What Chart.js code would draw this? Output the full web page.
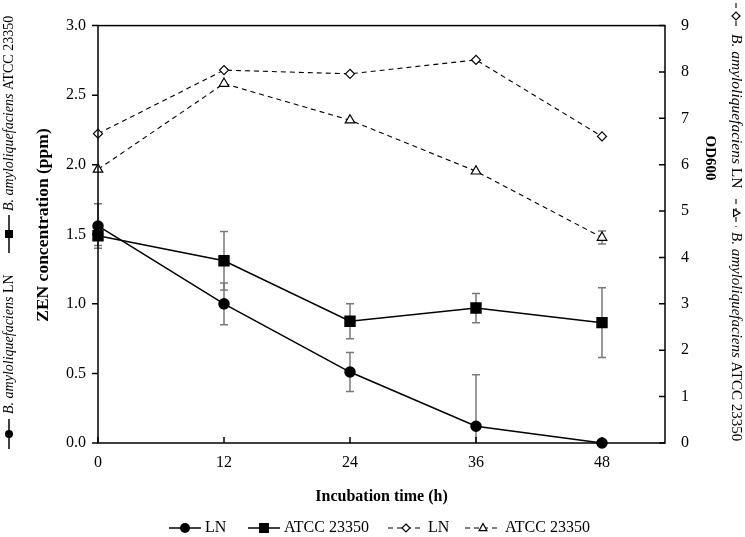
<!DOCTYPE html>
<html>
<head>
<meta charset="utf-8">
<script src="https://cdn.jsdelivr.net/npm/chart.js@4/dist/chart.umd.min.js"></script>
<style>
  html, body { margin: 0; padding: 0; background: #fff; }
  #wrap { width: 745px; height: 537px; }
</style>
</head>
<body>
<div id="wrap"><canvas id="zenChart" width="745" height="537"></canvas></div>
<script>
// ── DATA ─────────────────────────────
const hours = [0, 12, 24, 36, 48];
const zenLN = [1.56, 1.00, 0.51, 0.12, 0.00];
const zenLNErr = [0.16, 0.15, 0.14, 0.37, 0];
const zenATCC = [1.49, 1.31, 0.875, 0.97, 0.865];
const zenATCCErr = [0.07, 0.21, 0.125, 0.105, 0.25];
const odLN = [6.67, 8.04, 7.96, 8.26, 6.61];
const odATCC = [5.90, 7.75, 6.96, 5.86, 4.43];
const odATCCErr = [0, 0, 0, 0, 0.14];

const xTicks = [0, 12, 24, 36, 48];
const zenTicks = [0, 0.5, 1.0, 1.5, 2.0, 2.5, 3.0];
const odTicks = [0, 1, 2, 3, 4, 5, 6, 7, 8, 9];

const FONT = '"Liberation Serif", "Times New Roman", serif';
const ERR_COLOR = "#7a7a7a";

// ── HELPERS ─────────────────────────────
function pts(values) {
  return hours.map((h, i) => ({ x: h, y: values[i] }));
}

function drawMarker(ctx, style, x, y, r) {
  ctx.save();
  ctx.setLineDash([]);
  ctx.lineWidth = 1.2;
  ctx.strokeStyle = "#000";
  ctx.beginPath();
  if (style === "circle") {
    ctx.arc(x, y, r, 0, Math.PI * 2);
    ctx.fillStyle = "#000";
    ctx.fill();
  } else if (style === "rect") {
    ctx.fillStyle = "#000";
    ctx.fillRect(x - r, y - r, r * 2, r * 2);
  } else if (style === "rectRot") {
    ctx.moveTo(x, y - r);
    ctx.lineTo(x + r, y);
    ctx.lineTo(x, y + r);
    ctx.lineTo(x - r, y);
    ctx.closePath();
    ctx.fillStyle = "#fff";
    ctx.fill();
    ctx.stroke();
  } else {
    ctx.moveTo(x, y - r);
    ctx.lineTo(x + r * 0.87, y + r * 0.6);
    ctx.lineTo(x - r * 0.87, y + r * 0.6);
    ctx.closePath();
    ctx.fillStyle = "#fff";
    ctx.fill();
    ctx.stroke();
  }
  ctx.restore();
}

// one legend sample: line + marker + label parts, drawn along current x axis
function legendItem(ctx, x, y, len, ds, parts, size, markerR, gap) {
  ctx.save();
  ctx.strokeStyle = "#000";
  ctx.lineWidth = ds.borderDash ? 1.1 : 1.5;
  ctx.setLineDash(ds.borderDash || []);
  ctx.beginPath();
  ctx.moveTo(x, y);
  ctx.lineTo(x + len, y);
  ctx.stroke();
  drawMarker(ctx, ds.pointStyle, x + len / 2, y, markerR);
  ctx.fillStyle = "#000";
  ctx.textBaseline = "middle";
  ctx.textAlign = "left";
  let tx = x + len + (gap || 4);
  parts.forEach(p => {
    ctx.font = (p.italic ? "italic " : "") + size + "px " + FONT;
    ctx.fillText(p.text, tx, y);
    tx += ctx.measureText(p.text).width;
  });
  ctx.restore();
}

// ── PLUGIN: frame, ticks, error bars, titles, legends ─────────
const decorPlugin = {
  id: "decor",
  beforeDatasetsDraw(chart) {
    const ctx = chart.ctx;
    const xs = chart.scales.x;
    ctx.save();
    ctx.strokeStyle = ERR_COLOR;
    ctx.lineWidth = 1.5;
    chart.data.datasets.forEach(ds => {
      if (!ds.errors) return;
      const ys = chart.scales[ds.yAxisID];
      ds.data.forEach((p, i) => {
        const e = ds.errors[i];
        if (!e) return;
        const px = xs.getPixelForValue(p.x);
        const top = ys.getPixelForValue(p.y + e);
        const low = Math.max(p.y - e, 0);
        const bot = ys.getPixelForValue(low);
        ctx.beginPath();
        ctx.moveTo(px, top);
        ctx.lineTo(px, bot);
        ctx.moveTo(px - 4, top);
        ctx.lineTo(px + 4, top);
        if (low > 0) {
          ctx.moveTo(px - 4, bot);
          ctx.lineTo(px + 4, bot);
        }
        ctx.stroke();
      });
    });
    ctx.restore();
  },
  afterDraw(chart) {
    const ctx = chart.ctx;
    const a = chart.chartArea;
    const xs = chart.scales.x, yl = chart.scales.y, yr = chart.scales.y2;
    const dsets = chart.data.datasets;

    // frame
    ctx.save();
    ctx.strokeStyle = "#000";
    ctx.lineWidth = 1.5;
    ctx.strokeRect(a.left, a.top, a.right - a.left, a.bottom - a.top);
    ctx.beginPath();
    zenTicks.forEach(v => {
      const py = yl.getPixelForValue(v);
      ctx.moveTo(a.left - 6, py);
      ctx.lineTo(a.left, py);
    });
    odTicks.forEach(v => {
      const py = yr.getPixelForValue(v);
      ctx.moveTo(a.right - 6, py);
      ctx.lineTo(a.right, py);
    });
    xTicks.forEach(v => {
      const px = xs.getPixelForValue(v);
      ctx.moveTo(px, a.bottom);
      ctx.lineTo(px, a.bottom - 6);
    });
    ctx.stroke();

    // axis titles
    ctx.fillStyle = "#000";
    ctx.textAlign = "center";
    ctx.textBaseline = "middle";
    ctx.font = "bold 16px " + FONT;
    ctx.fillText("Incubation time (h)", (a.left + a.right) / 2, 497);
    ctx.save();
    ctx.translate(43, 225);
    ctx.rotate(-Math.PI / 2);
    ctx.font = "bold 17.5px " + FONT;
    ctx.fillText("ZEN concentration (ppm)", 0, 0);
    ctx.restore();
    ctx.save();
    ctx.translate(710, 158);
    ctx.rotate(Math.PI / 2);
    ctx.font = "bold 15px " + FONT;
    ctx.fillText("OD600", 0, 0);
    ctx.restore();
    ctx.restore();

    // bottom legend
    legendItem(ctx, 169, 528, 32, dsets[0], [{ text: "LN" }], 16, 5);
    legendItem(ctx, 248, 528, 32, dsets[1], [{ text: "ATCC 23350" }], 16, 5);
    legendItem(ctx, 388, 528, 36, dsets[2], [{ text: "LN" }], 16, 4);
    legendItem(ctx, 465, 528, 36, dsets[3], [{ text: "ATCC 23350" }], 16, 4.5);

    // rotated legends at the sides
    const sp = "B. amyloliquefaciens ";
    ctx.save();
    ctx.translate(9, 467);
    ctx.rotate(-Math.PI / 2);
    legendItem(ctx, 18, 0, 30, dsets[0], [{ text: sp, italic: true }, { text: "LN" }], 14, 4, 5);
    legendItem(ctx, 214, 0, 38, dsets[1], [{ text: sp, italic: true }, { text: "ATCC 23350" }], 14, 4, 4);
    ctx.restore();

    ctx.save();
    ctx.translate(736, 0);
    ctx.rotate(Math.PI / 2);
    legendItem(ctx, 3, 0, 26, dsets[2], [{ text: sp, italic: true }, { text: "LN" }], 15.5, 4, 5);
    legendItem(ctx, 199, 0, 28, dsets[3], [{ text: sp, italic: true }, { text: "ATCC 23350" }], 15, 4, 5);
    ctx.restore();
  }
};

// ── CHART ─────────────────────────────
new Chart(document.getElementById("zenChart").getContext("2d"), {
  type: "line",
  data: {
    datasets: [
      {
        label: "LN", data: pts(zenLN), errors: zenLNErr, yAxisID: "y",
        borderColor: "#000", borderWidth: 1.5, pointStyle: "circle", pointRadius: 5,
        pointBackgroundColor: "#000", pointBorderColor: "#000", clip: false
      },
      {
        label: "ATCC 23350", data: pts(zenATCC), errors: zenATCCErr, yAxisID: "y",
        borderColor: "#000", borderWidth: 1.5, pointStyle: "rect", pointRadius: 7,
        pointBackgroundColor: "#000", pointBorderColor: "#000", clip: false
      },
      {
        label: "LN", data: pts(odLN), yAxisID: "y2",
        borderColor: "#000", borderWidth: 1.1, borderDash: [5, 4], pointStyle: "rectRot", pointRadius: 4.5,
        pointBackgroundColor: "#fff", pointBorderColor: "#000", pointBorderWidth: 1.2, clip: false
      },
      {
        label: "ATCC 23350", data: pts(odATCC), errors: odATCCErr, yAxisID: "y2",
        borderColor: "#000", borderWidth: 1.1, borderDash: [5, 4], pointStyle: "triangle", pointRadius: 5.5,
        pointBackgroundColor: "#fff", pointBorderColor: "#000", pointBorderWidth: 1.2, clip: false
      }
    ]
  },
  options: {
    responsive: false,
    animation: false,
    devicePixelRatio: 1,
    layout: { padding: { top: 10, left: 0, right: 0, bottom: 0 } },
    plugins: { legend: { display: false }, tooltip: { enabled: false } },
    scales: {
      x: {
        type: "linear", position: "bottom", min: 0, max: 54,
        grid: { display: false, drawTicks: false }, border: { display: false },
        ticks: { color: "#000", font: { family: FONT, size: 16 }, padding: 10, maxRotation: 0, autoSkip: false },
        afterBuildTicks: s => { s.ticks = xTicks.map(v => ({ value: v })); },
        afterFit: s => { s.height = 94; }
      },
      y: {
        type: "linear", position: "left", min: 0, max: 3,
        grid: { display: false, drawTicks: false }, border: { display: false },
        ticks: { color: "#000", font: { family: FONT, size: 16 }, padding: 12, callback: v => v.toFixed(1) },
        afterBuildTicks: s => { s.ticks = zenTicks.map(v => ({ value: v })); },
        afterFit: s => { s.width = 98; }
      },
      y2: {
        type: "linear", position: "right", min: 0, max: 9,
        grid: { display: false, drawTicks: false }, border: { display: false },
        ticks: { color: "#000", font: { family: FONT, size: 16 }, padding: 16 },
        afterBuildTicks: s => { s.ticks = odTicks.map(v => ({ value: v })); },
        afterFit: s => { s.width = 80; }
      }
    }
  },
  plugins: [decorPlugin]
});
</script>
</body>
</html>
